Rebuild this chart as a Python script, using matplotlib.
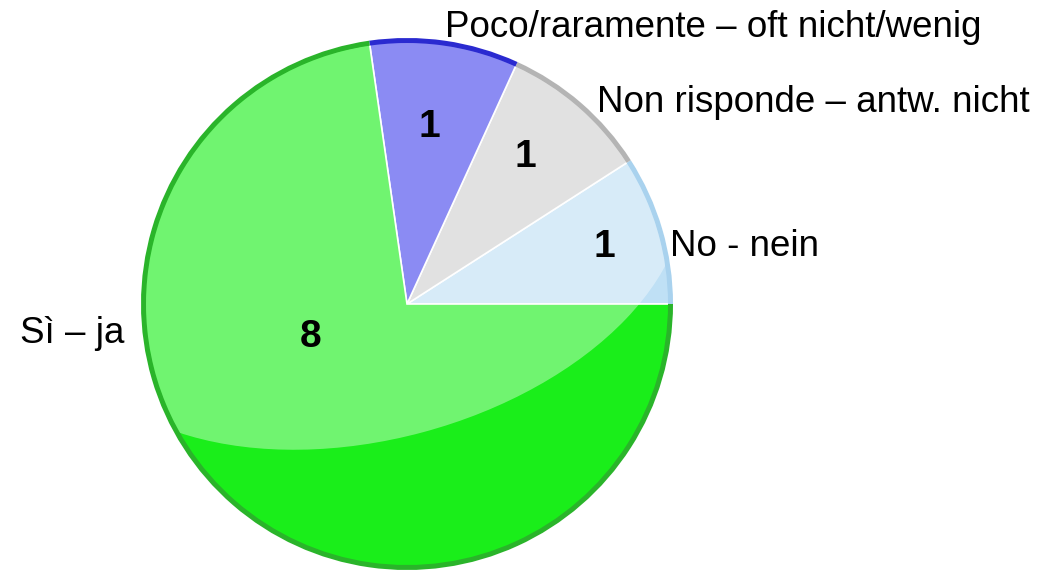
import matplotlib.pyplot as plt
from matplotlib.patches import Ellipse, Circle

# slices, counter-clockwise from 3 o'clock
labels = ["No - nein", "Non risponde – antw. nicht", "Poco/raramente – oft nicht/wenig", "Sì – ja"]
counts = [1, 1, 1, 8]
colors = ["#bfe0f5", "#d0d0d0", "#4444ec", "#1aee1a"]
rim_colors = ["#a9d2ee", "#b4b4b4", "#2a2ad0", "#2ab42a"]

# text anchors (pixels from top-left, baseline)
label_pos = [(670, 256), (597, 112), (445, 37), (20, 343)]
count_pos = [(604, 257), (525, 167), (429, 137), (311, 347)]

W, H = 1043, 572
plt.rcParams["font.family"] = ["Liberation Sans", "DejaVu Sans"]

fig = plt.figure(figsize=(W / 100, H / 100), dpi=100)
ax = fig.add_axes([0, 0, 1, 1])

cx, cy, r = 407, H - 304, 266

ax.pie(counts, colors=colors, startangle=0, counterclock=True,
       center=(cx, cy), radius=r, frame=True,
       wedgeprops=dict(linewidth=1.2, edgecolor="white"))
# darker rim
ax.pie(counts, colors=rim_colors, startangle=0, center=(cx, cy), radius=r, frame=True,
       wedgeprops=dict(width=5, linewidth=0))
ax.set_xlim(0, W)
ax.set_ylim(0, H)
ax.set_aspect("equal")
ax.axis("off")

# glossy highlight
clip = Circle((cx, cy), r - 5, transform=ax.transData)
hl = Ellipse((cx - 35, cy + 60), 640, 390, angle=15, facecolor="white", alpha=0.38, linewidth=0)
ax.add_patch(hl)
hl.set_clip_path(clip)

for t, (x, y) in zip(labels, label_pos):
    ax.text(x, H - y, t, fontsize=26.5, ha="left", va="baseline")
for c, (x, y) in zip(counts, count_pos):
    ax.text(x, H - y, str(c), fontsize=28, fontweight="bold", ha="center", va="baseline")

fig.savefig("out.png", dpi=100)
